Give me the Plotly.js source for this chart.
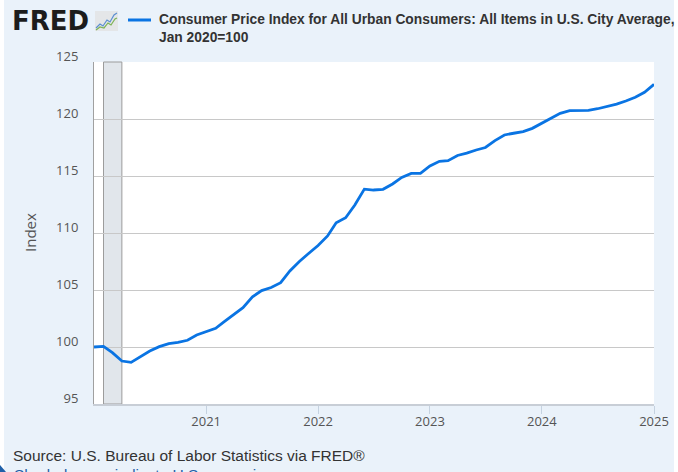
<!DOCTYPE html>
<html>
<head>
<meta charset="utf-8">
<script src="https://cdn.plot.ly/plotly-3.0.1.min.js"></script>
<style>
  html, body { margin: 0; padding: 0; background: #ffffff; }
  #chart { width: 678px; height: 472px; }
</style>
</head>
<body>
<div id="chart"></div>
<script>
// ---- Data ----
const months = [
  '2020-01-01','2020-02-01','2020-03-01','2020-04-01','2020-05-01','2020-06-01',
  '2020-07-01','2020-08-01','2020-09-01','2020-10-01','2020-11-01','2020-12-01',
  '2021-01-01','2021-02-01','2021-03-01','2021-04-01','2021-05-01','2021-06-01',
  '2021-07-01','2021-08-01','2021-09-01','2021-10-01','2021-11-01','2021-12-01',
  '2022-01-01','2022-02-01','2022-03-01','2022-04-01','2022-05-01','2022-06-01',
  '2022-07-01','2022-08-01','2022-09-01','2022-10-01','2022-11-01','2022-12-01',
  '2023-01-01','2023-02-01','2023-03-01','2023-04-01','2023-05-01','2023-06-01',
  '2023-07-01','2023-08-01','2023-09-01','2023-10-01','2023-11-01','2023-12-01',
  '2024-01-01','2024-02-01','2024-03-01','2024-04-01','2024-05-01','2024-06-01',
  '2024-07-01','2024-08-01','2024-09-01','2024-10-01','2024-11-01','2024-12-01',
  '2025-01-01'
];
const cpiIndex = [
  100.0, 100.05, 99.5, 98.77, 98.65, 99.15, 99.65, 100.03, 100.3, 100.41, 100.59, 101.05,
  101.34, 101.64, 102.22, 102.81, 103.45, 104.4, 104.95, 105.22, 105.64, 106.67, 107.5, 108.2,
  108.9, 109.74, 110.9, 111.34, 112.46, 113.85, 113.77, 113.83, 114.3, 114.88, 115.23, 115.23,
  115.88, 116.29, 116.34, 116.8, 117.0, 117.28, 117.5, 118.1, 118.6, 118.75, 118.9, 119.18,
  119.62, 120.06, 120.5, 120.73, 120.73, 120.76, 120.9, 121.08, 121.3, 121.58, 121.9, 122.34,
  123.04
];
const recessionStart = '2020-02-01';
const recessionEnd = '2020-04-01';
const seriesName = 'Consumer Price Index for All Urban Consumers: All Items in U.S. City Average,';
const seriesUnits = 'Jan 2020=100';
const yAxisLabel = 'Index';
const sourceText = 'Source: U.S. Bureau of Labor Statistics via FRED®';
const noteText = 'Shaded areas indicate U.S. recessions.';
const yTicks = [95, 100, 105, 110, 115, 120, 125];
const xTickLabels = ['2021', '2022', '2023', '2024', '2025'];
const xTickDates = ['2021-01-01', '2022-01-01', '2023-01-01', '2024-01-01', '2025-01-01'];

// ---- Layout helpers (pixel -> paper) ----
const W = 678, H = 472;
const L = 94, R = 24, T = 62, B = 68;
const PW = W - L - R, PH = H - T - B;
const px = x => (x - L) / PW;
const py = y => (H - B - y) / PH;

const BLUE = '#0a74e3';
const sans = 'Liberation Sans, Arial, sans-serif';
const tickFont = { family: 'Open Sans, sans-serif', size: 13, color: '#555555' };

function pathPx(points) {
  return points.map((p, i) => (i === 0 ? 'M' : 'L') + px(p[0]).toFixed(5) + ',' + py(p[1]).toFixed(5)).join(' ');
}

const trace = {
  x: months,
  y: cpiIndex,
  type: 'scatter',
  mode: 'lines',
  line: { color: BLUE, width: 2.8 },
  hoverinfo: 'x+y',
  showlegend: false
};

const shapes = [
  // recession band
  { type: 'rect', xref: 'x', yref: 'paper', x0: recessionStart, x1: recessionEnd, y0: 0, y1: 1,
    fillcolor: '#e1e6eb', line: { color: '#9c9c9c', width: 1 }, layer: 'below' },
  // legend line
  { type: 'line', xref: 'paper', yref: 'paper', x0: px(128), x1: px(151), y0: py(20), y1: py(20),
    line: { color: BLUE, width: 3 } },
  // FRED icon background
  { type: 'rect', xref: 'paper', yref: 'paper', x0: px(95), x1: px(118), y0: py(31), y1: py(11),
    fillcolor: '#e4e6e8', line: { width: 0 } },
  { type: 'path', xref: 'paper', yref: 'paper',
    path: pathPx([[96, 28], [100, 24], [103, 26], [107, 20], [110, 22], [114, 15], [117, 13]]),
    line: { color: '#5b8fd0', width: 1.2 } },
  { type: 'path', xref: 'paper', yref: 'paper',
    path: pathPx([[96, 30], [100, 27], [104, 28], [108, 23], [111, 25], [115, 19], [117, 18]]),
    line: { color: '#7db356', width: 1.2 } },
  // white page edges
  { type: 'rect', xref: 'paper', yref: 'paper', x0: px(674), x1: px(680), y0: py(0), y1: py(472),
    fillcolor: '#ffffff', line: { width: 0 } },
  { type: 'rect', xref: 'paper', yref: 'paper', x0: px(-2), x1: px(4), y0: py(0), y1: py(472),
    fillcolor: '#ffffff', line: { width: 0 } },
  // small marker at bottom-left
  { type: 'path', xref: 'paper', yref: 'paper',
    path: pathPx([[0, 465], [6, 472], [0, 472]]) + ' Z',
    fillcolor: '#1f5fa8', line: { width: 0 } }
];

const annotations = [
  { xref: 'paper', yref: 'paper', x: px(10), y: py(21), xanchor: 'left', yanchor: 'middle',
    text: '<b>FRED</b>', showarrow: false,
    font: { family: 'DejaVu Sans, sans-serif', size: 26, color: '#1c1c1c' } },
  { xref: 'paper', yref: 'paper', x: px(157), y: py(10), xanchor: 'left', yanchor: 'top', align: 'left',
    text: '<b>' + seriesName + '</b><br><b>' + seriesUnits + '</b>', showarrow: false,
    font: { family: sans, size: 13.8, color: '#333333' } },
  { xref: 'paper', yref: 'paper', x: px(30), y: py(233), xanchor: 'center', yanchor: 'middle',
    text: yAxisLabel, textangle: -90, showarrow: false,
    font: { family: 'Open Sans, sans-serif', size: 15, color: '#555555' } },
  { xref: 'paper', yref: 'paper', x: px(11), y: py(455), xanchor: 'left', yanchor: 'middle',
    text: sourceText, showarrow: false,
    font: { family: sans, size: 15.5, color: '#333333' } },
  { xref: 'paper', yref: 'paper', x: px(12), y: py(474), xanchor: 'left', yanchor: 'middle',
    text: noteText, showarrow: false,
    font: { family: sans, size: 15.5, color: '#1f5fa8' } }
];

const layout = {
  width: W, height: H,
  margin: { l: L, r: R, t: T, b: B, pad: 0 },
  paper_bgcolor: '#eaf2fa',
  plot_bgcolor: '#ffffff',
  showlegend: false,
  xaxis: {
    type: 'date',
    range: ['2020-01-01', '2025-01-01'],
    tickmode: 'array',
    tickvals: xTickDates,
    ticktext: xTickLabels,
    ticks: 'outside', ticklen: 8, tickcolor: '#c5d2e0', tickwidth: 1,
    ticklabelstandoff: -3,
    showgrid: false,
    showline: true, linecolor: '#c8ced6', linewidth: 1.5,
    tickfont: tickFont,
    zeroline: false,
    fixedrange: true
  },
  yaxis: {
    range: [95, 125],
    tickmode: 'array',
    tickvals: yTicks,
    ticks: '',
    showgrid: true, gridcolor: '#c8c8c8', gridwidth: 1,
    showline: true, linecolor: '#a0a0a0', linewidth: 1,
    tickfont: tickFont,
    ticklabelstandoff: 12,
    ticklabelshift: -6,
    zeroline: false,
    fixedrange: true
  },
  shapes: shapes,
  annotations: annotations
};

Plotly.newPlot('chart', [trace], layout, { displayModeBar: false, staticPlot: true });
</script>
</body>
</html>
